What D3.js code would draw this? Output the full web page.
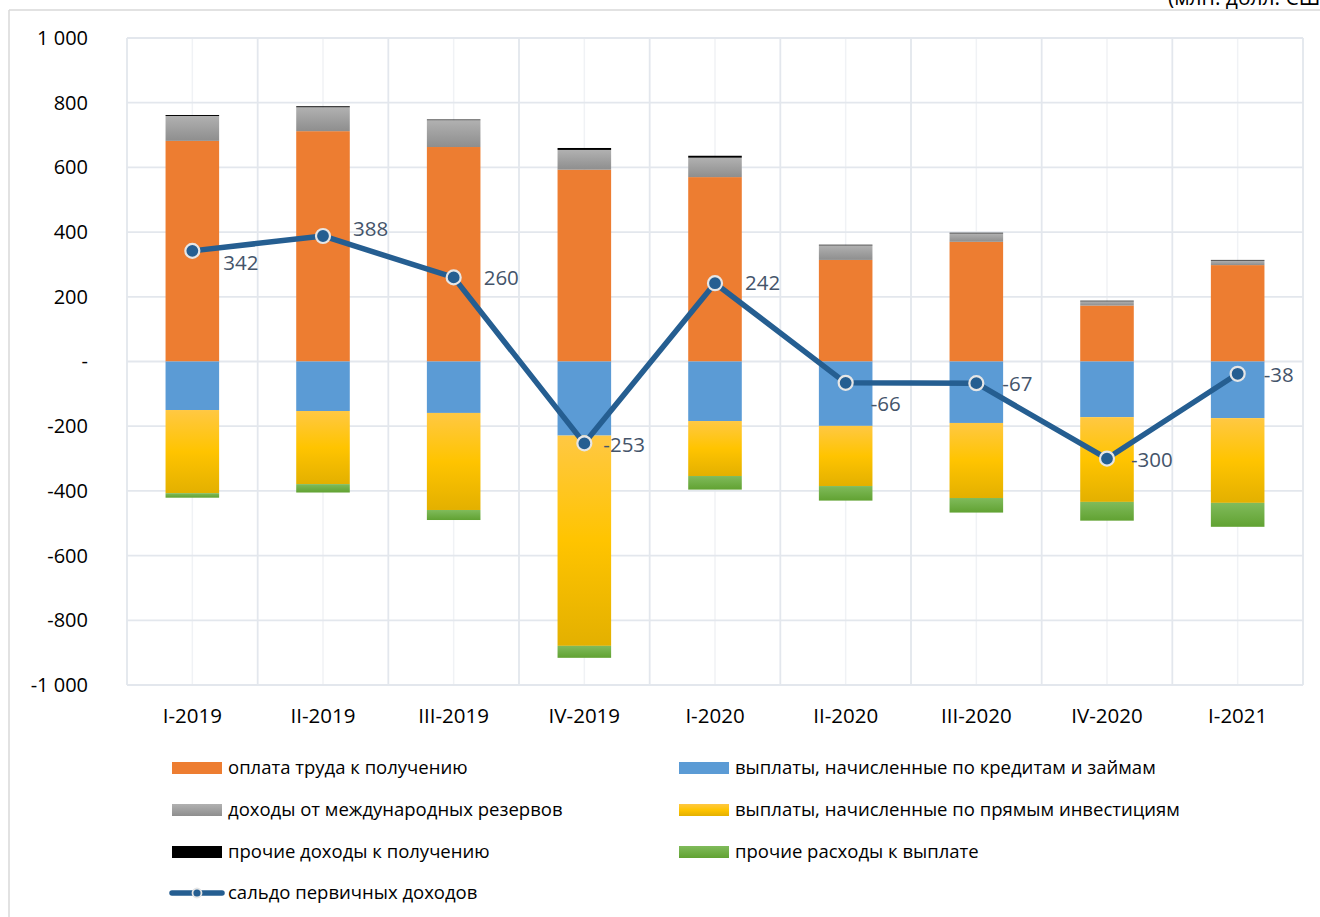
<!DOCTYPE html>
<html><head><meta charset="utf-8">
<script src="https://cdn.jsdelivr.net/npm/d3@7"></script>
<style>
html,body{margin:0;padding:0;background:#fff;}
svg{display:block;font-family:"Open Sans",sans-serif;}
</style></head>
<body>
<svg id="chart" width="1320" height="917"></svg>
<script>
// ---- data ----
const categories = ["I-2019","II-2019","III-2019","IV-2019","I-2020","II-2020","III-2020","IV-2020","I-2021"];
const wages      = [682, 712, 663, 593, 570, 314, 370, 173, 298];   // оплата труда к получению
const reserves   = [77, 74, 83, 61, 60, 45, 26, 13, 14];            // доходы от международных резервов
const otherInc   = [3, 3, 2, 6, 6, 2, 2, 2, 2];                     // прочие доходы к получению
const loans      = [-150, -153, -159, -229, -184, -199, -190, -172, -175]; // выплаты по кредитам и займам
const fdi        = [-257, -226, -300, -650, -170, -186, -232, -262, -262]; // выплаты по прямым инвестициям
const otherExp   = [-14, -26, -31, -37, -42, -45, -45, -58, -74];   // прочие расходы к выплате
const balance    = [342, 388, 260, -253, 242, -66, -67, -300, -38]; // сальдо первичных доходов
const yTicks     = [-1000,-800,-600,-400,-200,0,200,400,600,800,1000];

const seriesNames = {
  wages:"оплата труда к получению",
  loans:"выплаты, начисленные по кредитам и займам",
  reserves:"доходы от международных резервов",
  fdi:"выплаты, начисленные по прямым инвестициям",
  otherInc:"прочие доходы к получению",
  otherExp:"прочие расходы к выплате",
  balance:"сальдо первичных доходов"
};
// label offsets (px) for line data labels
const labelOffset = [[31,12],[30,-7],[30,0],[19,1],[30,0],[25,21],[26,1],[24,1],[26,1]];

const svg = d3.select("#chart");
const defs = svg.append("defs");
function grad(id, stops){
  const g = defs.append("linearGradient").attr("id",id).attr("x1",0).attr("y1",0).attr("x2",0).attr("y2",1);
  stops.forEach(s=>g.append("stop").attr("offset",s[0]).attr("stop-color",s[1]));
}
grad("gGray",[[0,"#B1B1B1"],[1,"#8E8E8E"]]);
grad("gYellow",[[0,"#FFC843"],[0.5,"#FFC400"],[1,"#E3B000"]]);
grad("gGreen",[[0,"#80BB5B"],[1,"#61A232"]]);

const fills = {wages:"#ED7D31", reserves:"url(#gGray)", otherInc:"#000000",
               loans:"#5B9BD5", fdi:"url(#gYellow)", otherExp:"url(#gGreen)"};

// outer frame
svg.append("line").attr("x1",9).attr("x2",9).attr("y1",10).attr("y2",917).attr("stroke","#D9D9D9").attr("stroke-width",1.5);
svg.append("line").attr("x1",9).attr("x2",1320).attr("y1",10).attr("y2",10).attr("stroke","#D9D9D9").attr("stroke-width",1.5);
svg.append("text").attr("x",1168).attr("y",5).attr("font-size",21).attr("fill","#000").text("(млн. долл. США)");

const L=127, R=1303, T=38, B=685;
const x = d3.scaleBand().domain(categories).range([L,R]).paddingInner(0.59).paddingOuter(0.295);
const y = d3.scaleLinear().domain([-1000,1000]).range([B,T]);
const step = x.step();

// grid
const grid = svg.append("g");
categories.forEach((c,i)=>{
  const cx = x(c)+x.bandwidth()/2;
  grid.append("line").attr("x1",cx).attr("x2",cx).attr("y1",T).attr("y2",B).attr("stroke","#F0F2F5").attr("stroke-width",1.5);
});
d3.range(categories.length+1).forEach(i=>{
  const gx = L + i*step;
  grid.append("line").attr("x1",gx).attr("x2",gx).attr("y1",T).attr("y2",B).attr("stroke","#E3E7ED").attr("stroke-width",1.8);
});
yTicks.forEach(t=>{
  grid.append("line").attr("x1",L).attr("x2",R).attr("y1",y(t)).attr("y2",y(t)).attr("stroke","#E3E7ED").attr("stroke-width",1.8);
});

// y axis
const fmt = v => v===0 ? "-" : (v<0?"-":"") + d3.format(",")(Math.abs(v)).replace(/,/g," ");
const yAxis = d3.axisLeft(y).tickValues(yTicks).tickFormat(fmt).tickSize(0).tickPadding(0);
const ya = svg.append("g").attr("transform",`translate(88,0)`).call(yAxis);
ya.select(".domain").remove();
ya.selectAll("text").attr("font-size",20).attr("fill","#000").attr("font-family","Open Sans");

// x axis
const xAxis = d3.axisBottom(x).tickSize(0).tickPadding(0);
const xa = svg.append("g").attr("transform",`translate(0,708)`).call(xAxis);
xa.select(".domain").remove();
xa.selectAll("text").attr("font-size",20.5).attr("fill","#000").attr("dy","0.71em").attr("font-family","Open Sans");

// stacked bars
const rows = categories.map((c,i)=>({cat:c, wages:wages[i], reserves:reserves[i], otherInc:otherInc[i],
  loans:loans[i], fdi:fdi[i], otherExp:otherExp[i]}));
const keys = ["wages","reserves","otherInc","loans","fdi","otherExp"];
const stack = d3.stack().keys(keys).offset(d3.stackOffsetDiverging);
const layers = stack(rows);
const bars = svg.append("g");
layers.forEach(layer=>{
  bars.selectAll(null).data(layer).enter().append("rect")
    .attr("x",d=>x(d.data.cat))
    .attr("width",x.bandwidth())
    .attr("y",d=>y(Math.max(d[0],d[1])))
    .attr("height",d=>Math.abs(y(d[0])-y(d[1])))
    .attr("fill",fills[layer.key]);
});

// line
const cxOf = i => x(categories[i])+x.bandwidth()/2;
const line = d3.line().x((d,i)=>cxOf(i)).y(d=>y(d));
svg.append("path").datum(balance).attr("d",line).attr("fill","none").attr("stroke","#255E91").attr("stroke-width",5.5).attr("stroke-linejoin","round");
svg.append("g").selectAll("circle").data(balance).enter().append("circle")
  .attr("cx",(d,i)=>cxOf(i)).attr("cy",d=>y(d)).attr("r",7)
  .attr("fill","#255E91").attr("stroke","#E6E6E6").attr("stroke-width",2.2);
svg.append("g").selectAll("text").data(balance).enter().append("text")
  .attr("x",(d,i)=>cxOf(i)+labelOffset[i][0]).attr("y",(d,i)=>y(d)+labelOffset[i][1])
  .attr("dy","0.35em").attr("font-size",20.5).attr("fill","#44546A").text(d=>d);

// legend
const leg = svg.append("g").attr("font-size",18.5).attr("fill","#000");
const legendItems = [
  ["wages",172,768],["loans",679,768],
  ["reserves",172,810],["fdi",679,810],
  ["otherInc",172,852],["otherExp",679,852],
  ["balance",172,893]
];
legendItems.forEach(([k,lx,ly])=>{
  if(k==="balance"){
    leg.append("line").attr("x1",lx).attr("x2",lx+50).attr("y1",ly).attr("y2",ly).attr("stroke","#255E91").attr("stroke-width",5.5).attr("stroke-linecap","round");
    leg.append("circle").attr("cx",lx+25).attr("cy",ly).attr("r",4.5).attr("fill","#255E91").attr("stroke","#E6E6E6").attr("stroke-width",1.8);
  } else {
    leg.append("rect").attr("x",lx).attr("y",ly-6).attr("width",50).attr("height",12).attr("fill",fills[k]);
  }
  leg.append("text").attr("x",lx+56).attr("y",ly).attr("dy","0.35em").text(seriesNames[k]);
});
</script>
</body></html>
